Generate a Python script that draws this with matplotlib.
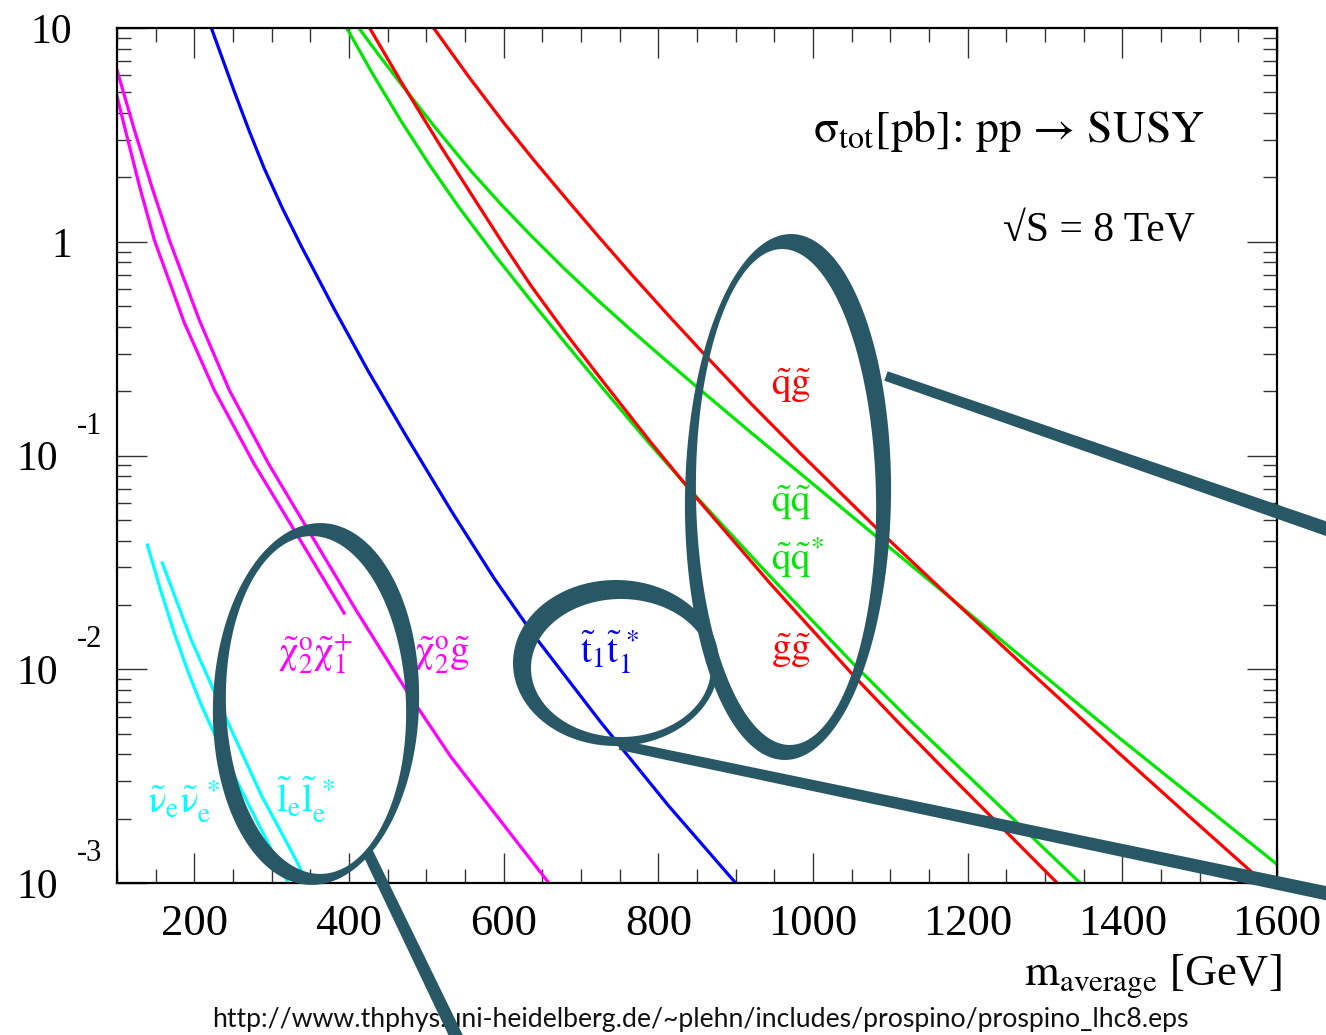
import numpy as np
import matplotlib
matplotlib.use('Agg')
import matplotlib.pyplot as plt
from matplotlib.path import Path
from matplotlib.patches import PathPatch, Polygon
from matplotlib.transforms import Affine2D
from matplotlib.ticker import MultipleLocator, LogLocator, NullFormatter

plt.rcParams['font.family'] = ['STIXGeneral', 'DejaVu Serif']
plt.rcParams['mathtext.fontset'] = 'stix'

# ---------------- data (m_average [GeV], sigma_tot [pb]) ----------------
m_chi2g = [100, 122.5, 145.1, 167.7, 206.5, 245.2, 296.2, 347.2, 411.8, 476.3, 531.9, 658.4]
s_chi2g = [6.353, 3.334, 1.803, 1.019, 0.4295, 0.2023, 0.0912, 0.04482, 0.01822, 0.007745, 0.003886, 0.001]

m_chi2chi1 = [100, 110.8, 129.55, 148.3, 187.05, 225.8, 277.45, 329.1, 393.7]
s_chi2chi1 = [4.786, 3.334, 1.793, 1.019, 0.4178, 0.2023, 0.0912, 0.04482, 0.01832]

m_stop = [222, 251.6, 271.0, 290.4, 314.3, 338.2, 380.8, 424.7, 473.8, 531.9, 587.4, 637.8, 725.6, 812.8, 900]
s_stop = [10.0, 5.058, 3.296, 2.203, 1.425, 0.955, 0.4853, 0.2489, 0.1236, 0.05534, 0.02673, 0.01462,
          0.005649, 0.002307, 0.001]

m_sqsqbar = [396.3, 431.8, 467.3, 504.75, 542.2, 588.7, 635.2, 680.4, 725.6, 786.3, 850.9, 941.3,
             1052.3, 1129.8, 1345.5]
s_sqsqbar = [10.1, 5.996, 3.673, 2.270, 1.449, 0.8644, 0.5297, 0.3337, 0.2118, 0.1161, 0.0631, 0.02799,
             0.01059, 0.005572, 0.001]

m_glgl = [426.0, 467.3, 519.0, 566.7, 600.95, 635.2, 680.4, 725.6, 790.2, 850.9, 945.2, 1052.3, 1109.2,
          1177.6, 1315.8]
s_glgl = [10.1, 5.61, 2.780, 1.493, 0.9574, 0.6237, 0.3726, 0.2286, 0.1153, 0.06237, 0.02506, 0.009354,
          0.005689, 0.003177, 0.001]

m_sqsq = [411.8, 439.55, 467.3, 512.5, 557.7, 596.45, 635.2, 678.45, 721.7, 764.35, 807.0, 850.9, 919.3,
          1083.3, 1177.6, 1393.3, 1600]
s_sqsq = [10.1, 7.397, 5.474, 3.387, 2.145, 1.498, 1.070, 0.7484, 0.5326, 0.3873, 0.2841, 0.2077, 0.1285,
          0.04138, 0.02158, 0.004862, 0.001223]

m_sqgl = [508.6, 554.45, 600.3, 639.05, 677.8, 721.05, 764.3, 811.45, 858.6, 919.3, 983.9, 1083.3, 1177.6,
          1285.45, 1393.3, 1488.25, 1583.2]
s_sqgl = [10.1, 5.941, 3.595, 2.409, 1.639, 1.074, 0.7101, 0.4589, 0.2999, 0.1756, 0.1020, 0.04529,
          0.02163, 0.009397, 0.004121, 0.002023, 0.001]

m_snu = [139.3, 156.7, 174.1, 191.55, 209.0, 235.0, 260.7, 321.4]
s_snu = [0.03814, 0.02328, 0.01477, 0.009817, 0.0068, 0.004227, 0.002724, 0.001]

m_sel = [158.6, 196.1, 243.9, 286.5, 331.7, 342.0]
s_sel = [0.03141, 0.0137, 0.0056, 0.00258, 0.00128, 0.001066]

xticks = [200, 400, 600, 800, 1000, 1200, 1400, 1600]
yticks_plain = [(10, '10'), (1, '1')]
yticks_exp = [(0.1, '-1'), (0.01, '-2'), (0.001, '-3')]

# ---------------- figure ----------------
W, H = 1326, 1035
fig = plt.figure(figsize=(W / 100, H / 100), dpi=100)
fig.patch.set_facecolor('white')
pix = Affine2D().scale(1.0 / W, -1.0 / H).translate(0, 1) + fig.transFigure
PT = 0.72  # points per pixel
SERIF = ['Liberation Serif', 'STIXGeneral', 'DejaVu Serif']

L, R, T, B = 117, 1277, 28, 883
ax = fig.add_axes([L / W, 1 - B / H, (R - L) / W, (B - T) / H])
ax.set_yscale('log')
ax.set_xlim(100, 1600)
ax.set_ylim(1e-3, 10)

lw = 2.3
curves = [
    (m_chi2g, s_chi2g, '#ff00ff'),
    (m_chi2chi1, s_chi2chi1, '#ff00ff'),
    (m_stop, s_stop, '#0000ff'),
    (m_sqsqbar, s_sqsqbar, '#00e600'),
    (m_sqsq, s_sqsq, '#00e600'),
    (m_glgl, s_glgl, '#ff0000'),
    (m_sqgl, s_sqgl, '#ff0000'),
    (m_snu, s_snu, '#00ffff'),
    (m_sel, s_sel, '#00ffff'),
]
for mx, sy, c in curves:
    ax.plot(mx, sy, color=c, lw=lw, solid_joinstyle='round')

for sp in ax.spines.values():
    sp.set_linewidth(1.6)
    sp.set_color('black')

ax.xaxis.set_major_locator(MultipleLocator(200))
ax.xaxis.set_minor_locator(MultipleLocator(50))
ax.yaxis.set_major_locator(LogLocator(base=10))
ax.yaxis.set_minor_locator(LogLocator(base=10, subs=np.arange(2, 10)))
ax.xaxis.set_major_formatter(NullFormatter())
ax.yaxis.set_major_formatter(NullFormatter())
ax.yaxis.set_minor_formatter(NullFormatter())
ax.tick_params(which='both', direction='in', top=True, right=True, color='#333333', width=1.0)
ax.tick_params(which='major', length=30 * PT)
ax.tick_params(which='minor', length=14 * PT)

# tick labels (ROOT style)
for v in xticks:
    ax.annotate(str(v), xy=(v, 0), xycoords=('data', 'axes fraction'),
                xytext=(0, -52 * PT), textcoords='offset points', family=SERIF,
                ha='center', va='baseline', fontsize=32, annotation_clip=False)
for v, s in yticks_plain:
    ax.annotate(s, xy=(0, v), xycoords=('axes fraction', 'data'),
                xytext=(-45 * PT, -15 * PT), textcoords='offset points', family=SERIF,
                ha='right', va='baseline', fontsize=30, annotation_clip=False)
for v, e in yticks_exp:
    ax.annotate('10', xy=(0, v), xycoords=('axes fraction', 'data'),
                xytext=(-59 * PT, -15 * PT), textcoords='offset points', family=SERIF,
                ha='right', va='baseline', fontsize=30, annotation_clip=False)
    ax.annotate(e, xy=(0, v), xycoords=('axes fraction', 'data'),
                xytext=(-40 * PT, 22 * PT), textcoords='offset points', family=SERIF,
                ha='left', va='baseline', fontsize=22, annotation_clip=False)

# axis title and header texts
fig.text(1282, 986, r'$\mathrm{m}_{\mathrm{average}}$ [GeV]', transform=pix,
         ha='right', va='baseline', fontsize=32, family=SERIF)
fig.text(1205, 142, r'$\mathrm{σ}_{\mathrm{tot}}$[pb]: pp → SUSY', transform=pix,
         ha='right', va='baseline', fontsize=33, family=['STIXGeneral', 'DejaVu Serif'])
fig.text(1195, 242, '√S = 8 TeV', transform=pix, ha='right', va='baseline', fontsize=30,
         family=SERIF)

# curve labels
labels = [
    (r'$\tilde{\mathrm{χ}}^{\mathrm{o}}_{2}\tilde{\mathrm{χ}}^{+}_{1}$', 278, 664, '#ff00ff'),
    (r'$\tilde{\mathrm{χ}}^{\mathrm{o}}_{2}\tilde{\mathrm{g}}$', 414, 664, '#ff00ff'),
    (r'$\tilde{\mathrm{t}}_{1}\tilde{\mathrm{t}}_{1}^{\,*}$', 580, 664, '#0000ff'),
    (r'$\tilde{\mathrm{ν}}_{\mathrm{e}}\tilde{\mathrm{ν}}_{\mathrm{e}}^{\;*}$', 147, 813, '#00ffff'),
    (r'$\tilde{\mathrm{l}}_{\mathrm{e}}\tilde{\mathrm{l}}_{\mathrm{e}}^{\;*}$', 276, 813, '#00ffff'),
    (r'$\tilde{\mathrm{q}}\tilde{\mathrm{g}}$', 771, 395, '#ff0000'),
    (r'$\tilde{\mathrm{q}}\tilde{\mathrm{q}}$', 771, 512, '#00e600'),
    (r'$\tilde{\mathrm{q}}\tilde{\mathrm{q}}^{*}$', 771, 570, '#00e600'),
    (r'$\tilde{\mathrm{g}}\tilde{\mathrm{g}}$', 771, 660, '#ff0000'),
]
for s, x, y, c in labels:
    fig.text(x, y, s, transform=pix, ha='left', va='baseline', fontsize=28, color=c)

# URL footer
url = 'http://www.thphys.uni-heidelberg.de/~plehn/includes/prospino/prospino_lhc8.eps'
ut = fig.text(700, 1027, url, transform=pix, ha='center', va='baseline', fontsize=20,
              family=['Lato', 'DejaVu Sans'], color='#111111', zorder=2)
fig.canvas.draw()
wpx = ut.get_window_extent().width
ut.set_fontsize(20 * 980.0 / wpx)

# ---------------- hand-drawn callouts ----------------
TEAL = '#285865'


def ellipse_pts(cx, cy, a, b, ang, n=260):
    t = np.linspace(0, 2 * np.pi, n, endpoint=False)
    c, s = np.cos(np.radians(ang)), np.sin(np.radians(ang))
    x, y = a * np.cos(t), b * np.sin(t)
    return np.column_stack([cx + c * x - s * y, cy + s * x + c * y])


def crescent(outer, inner):
    po = ellipse_pts(*outer)
    pi = ellipse_pts(*inner)[::-1]
    verts = np.vstack([po, po[:1], pi, pi[:1]])
    codes = ([Path.MOVETO] + [Path.LINETO] * (len(po) - 1) + [Path.CLOSEPOLY] +
             [Path.MOVETO] + [Path.LINETO] * (len(pi) - 1) + [Path.CLOSEPOLY])
    return PathPatch(Path(verts, codes), facecolor=TEAL, edgecolor='none',
                     transform=pix, zorder=5)


def bar(p0, p1, w0, w1):
    p0, p1 = np.array(p0, float), np.array(p1, float)
    d = (p1 - p0) / np.linalg.norm(p1 - p0)
    n = np.array([-d[1], d[0]])
    pts = [p0 + n * w0 / 2, p1 + n * w1 / 2, p1 - n * w1 / 2, p0 - n * w0 / 2]
    return Polygon(pts, closed=True, facecolor=TEAL, edgecolor='none',
                   transform=pix, zorder=5)


fig.add_artist(crescent((316, 704, 103, 181, 2.0), (316, 705, 90, 169, -2.0)))
fig.add_artist(crescent((616, 663, 103, 83, 0), (621, 668, 90, 69, 0)))
fig.add_artist(crescent((788, 497, 103, 263, 0.8), (786, 497, 90, 248, -1.0)))
fig.add_artist(bar((886, 376), (1330, 530), 10, 14))
fig.add_artist(bar((620, 745), (1330, 894), 10, 14))
fig.add_artist(bar((368, 853), (458, 1040), 11, 13))

fig.savefig('out.png', dpi=100, facecolor='white')
